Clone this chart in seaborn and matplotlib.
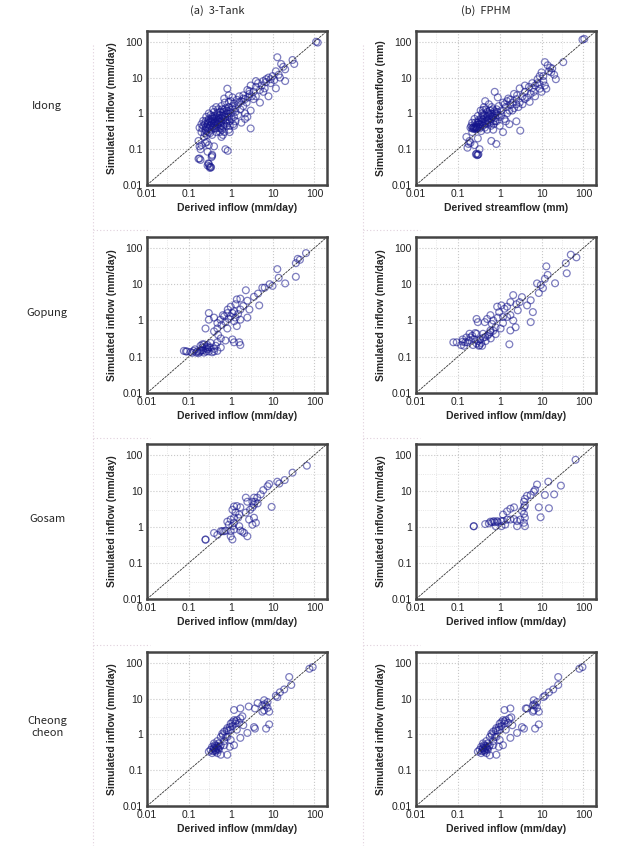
import matplotlib
matplotlib.use("Agg")
import matplotlib.pyplot as plt
from matplotlib.lines import Line2D
from matplotlib.ticker import LogLocator, FixedLocator, NullFormatter
import numpy as np
import pandas as pd
import seaborn as sns

sns.set_style("white")
plt.rcParams['font.family'] = ['Liberation Sans', 'DejaVu Sans']

# column / row headers
col_titles = ["(a)  3-Tank", "(b)  FPHM"]
row_names = ["Idong", "Gopung", "Gosam", "Cheong\ncheon"]
tick_vals = [0.01, 0.1, 1, 10, 100]
tick_labels = ["0.01", "0.1", "1", "10", "100"]

# (derived, simulated) pairs
idong_tank = [
    (120, 95), (110, 100), (33, 24), (30, 31), (13, 37), (18, 20), (16, 24), (20, 17), (14, 12), (12, 15),
    (10, 11), (9, 9), (11, 8.5), (8, 10), (7, 7.5), (6, 8), (5.5, 6), (6.5, 5), (5, 4.5), (4.5, 7),
    (4, 5.5), (3.5, 4), (3, 6), (3.2, 3), (2.8, 3.5), (2.5, 4.5), (2.2, 2.5), (2, 3.2), (2.4, 2), (1.8, 2.2),
    (1.6, 3), (1.5, 1.8), (1.4, 2.4), (1.3, 1.4), (1.2, 1.9), (0.83, 4.9), (0.9, 3.2), (1.1, 2.8),
    (2.5, 0.8), (3, 0.38), (2.2, 0.7), (1.8, 0.55), (1.5, 0.9), (1.2, 0.45), (0.95, 0.3), (0.85, 0.09),
    (0.75, 0.1), (0.6, 0.22), (20, 8), (12, 5), (8, 3), (5, 2),
    (15, 10), (9, 7), (7, 9), (6, 4), (4, 3), (3.5, 2.5), (2.6, 2.8), (2, 1.6), (1.7, 1.3), (1.3, 1.1),
    (4, 8), (2.8, 4.2), (2, 2.6), (1.6, 2.1), (3, 1.2), (2.2, 1.0), (1.1, 1.6), (0.9, 2.1), (0.7, 2.6),
    (0.2, 0.3), (0.22, 0.45), (0.25, 0.35), (0.25, 0.6), (0.28, 0.5), (0.3, 0.3), (0.3, 0.7), (0.32, 0.45),
    (0.33, 0.9), (0.35, 0.55), (0.35, 0.35), (0.38, 0.7), (0.4, 0.4), (0.4, 1.1), (0.42, 0.6), (0.45, 0.8),
    (0.45, 0.3), (0.48, 0.5), (0.5, 1.3), (0.5, 0.65), (0.52, 0.4), (0.55, 0.9), (0.58, 0.55), (0.6, 1.6),
    (0.6, 0.75), (0.62, 0.35), (0.65, 1.1), (0.68, 0.5), (0.7, 0.9), (0.72, 2.0), (0.75, 0.65), (0.8, 1.2),
    (0.8, 0.45), (0.85, 0.8), (0.9, 1.5), (0.95, 0.6), (1.0, 1.0), (1.0, 2.2), (1.05, 0.7), (1.1, 1.3),
    (1.15, 0.5), (0.27, 0.25), (0.23, 0.22), (0.36, 0.25), (0.3, 1.0), (0.26, 0.8), (0.55, 0.3), (0.45, 1.5),
    (0.38, 1.3), (0.65, 0.25), (0.7, 0.3), (0.9, 0.35), (0.2, 0.5), (0.18, 0.4), (0.42, 0.45), (0.33, 0.6),
    (0.5, 0.5), (0.6, 0.6), (0.28, 0.38), (0.36, 0.8), (0.46, 0.38), (0.55, 0.7), (0.75, 1.4), (0.85, 1.0),
    (0.21, 0.38), (0.24, 0.5), (0.26, 0.42), (0.29, 0.62), (0.31, 0.4), (0.34, 0.48), (0.37, 0.62),
    (0.39, 0.52), (0.41, 0.75), (0.43, 0.38), (0.47, 0.68), (0.49, 0.92), (0.53, 0.58), (0.56, 1.1),
    (0.59, 0.45), (0.63, 0.85), (0.66, 0.68), (0.69, 1.25), (0.73, 0.78), (0.77, 1.0), (0.82, 0.62),
    (0.87, 1.15), (0.92, 0.8), (0.98, 1.25), (0.26, 0.32), (0.32, 0.28), (0.38, 0.44), (0.44, 0.55),
    (0.52, 0.75), (0.62, 1.3), (0.48, 1.05), (0.4, 0.85), (0.34, 0.7), (0.29, 0.55), (0.24, 0.28),
    (0.22, 0.62), (0.57, 0.38), (0.67, 0.42), (0.78, 0.55), (1.2, 0.8), (1.3, 0.6), (0.95, 0.45),
    (0.17, 0.17), (0.19, 0.1), (0.3, 0.13), (0.28, 0.085), (0.17, 0.054), (0.19, 0.05), (0.3, 0.039),
    (0.33, 0.032), (0.28, 0.035), (0.32, 0.03), (0.36, 0.07), (0.35, 0.06), (0.25, 0.15), (0.2, 0.13), (0.4, 0.12),
    (0.18, 0.055), (0.31, 0.033), (0.29, 0.04), (0.34, 0.031), (0.36, 0.065), (0.18, 0.12), (0.27, 0.16),
]
idong_fphm = [
    (95, 115), (105, 120), (33, 27), (12, 27), (14, 22), (18, 18), (15, 15), (20, 12), (22, 9), (17, 14),
    (10, 14), (9, 11), (11, 8), (8, 9), (7, 6), (12, 6), (13, 4.9), (9.1, 4.9), (10, 4), (6, 7),
    (5, 5.5), (5.5, 3.5), (5.2, 2.1), (4, 4), (4.5, 2.8), (3.5, 3), (3, 5), (3, 2), (2.5, 2.5), (2.8, 1.5),
    (3.1, 0.33), (2.2, 3.5), (2, 2), (2, 1.2), (1.8, 1.7), (1.6, 2.6), (1.5, 1), (1.4, 1.5), (1.3, 0.7),
    (1.2, 2), (1.1, 1.2), (1, 0.45), (0.76, 4), (0.9, 2.8), (1.0, 0.8), (0.95, 1.6), (2.5, 0.6), (1.7, 0.5),
    (0.83, 0.14), (0.63, 0.17), (1.2, 0.3), (0.7, 0.35), (0.85, 0.6),
    (16, 19), (11, 11), (8, 7), (6, 5), (7, 3), (4, 2.5), (3.5, 1.8), (2.5, 1.8), (2.2, 1.4), (1.7, 1.2),
    (1.5, 2.2), (1.3, 1.8), (1.8, 2.4), (2.6, 3.2), (4, 6), (6.5, 4), (9, 6.5), (1.1, 0.9), (1.4, 0.6),
    (0.2, 0.4), (0.22, 0.55), (0.25, 0.38), (0.25, 0.7), (0.28, 0.48), (0.3, 0.42), (0.3, 0.85), (0.32, 0.6),
    (0.35, 0.5), (0.35, 1.2), (0.38, 0.7), (0.4, 0.45), (0.4, 0.9), (0.42, 1.5), (0.45, 0.6), (0.48, 0.8),
    (0.5, 0.5), (0.5, 1.1), (0.55, 0.7), (0.55, 1.8), (0.6, 0.55), (0.6, 1.0), (0.65, 0.8), (0.68, 1.3),
    (0.7, 0.6), (0.75, 1.0), (0.8, 0.75), (0.85, 1.3), (0.9, 0.9), (0.45, 2.2), (0.5, 0.35), (0.27, 0.42),
    (0.23, 0.4), (0.33, 0.38), (0.62, 0.45), (0.38, 1.0), (0.3, 0.55), (0.44, 0.4), (0.52, 0.62), (0.58, 0.9),
    (0.72, 0.5), (0.36, 0.32),
    (0.21, 0.45), (0.24, 0.42), (0.26, 0.55), (0.29, 0.38), (0.31, 0.65), (0.33, 0.5), (0.36, 0.75),
    (0.39, 0.55), (0.41, 0.68), (0.43, 0.9), (0.46, 0.52), (0.49, 0.65), (0.52, 0.85), (0.56, 0.58),
    (0.59, 1.2), (0.63, 0.7), (0.66, 0.95), (0.7, 0.8), (0.74, 1.15), (0.78, 0.6), (0.82, 1.0),
    (0.88, 1.1), (0.27, 0.36), (0.34, 0.42), (0.47, 1.3), (0.54, 1.0), (0.4, 1.25), (0.31, 0.48),
    (0.22, 0.38), (0.24, 0.37), (0.26, 0.4), (0.28, 0.39), (0.37, 0.58), (0.64, 1.5),
    (0.16, 0.22), (0.17, 0.11), (0.18, 0.14), (0.25, 0.13), (0.28, 0.075), (0.3, 0.07), (0.27, 0.072),
    (0.33, 0.1), (0.2, 0.15), (0.22, 0.3), (0.3, 0.2), (0.29, 0.068), (0.31, 0.072), (0.19, 0.17),
]
gopung_tank = [
    (63, 72), (45, 47), (40, 50), (36, 38), (36, 16), (20, 10.5), (13, 26), (14, 15), (8.5, 10), (10, 9),
    (6.5, 8), (5.7, 8), (4.5, 5.5), (4.8, 2.6), (3.6, 4.5), (2.5, 3.5), (2.3, 6.8), (1.7, 4), (1.4, 3.8),
    (1.3, 2.8), (1, 2.4), (1.2, 1.8), (0.83, 1.6), (0.7, 1.3), (0.57, 1.05), (0.48, 0.85), (0.4, 1.2),
    (0.3, 1.05), (0.25, 0.6), (0.3, 1.6), (0.48, 0.6), (0.83, 0.6), (1.2, 0.95), (1.7, 1.05), (2.5, 1.2),
    (2.8, 2), (1.7, 2), (1, 1.3), (1.4, 0.7), (0.65, 1.4), (0.4, 0.5), (0.5, 0.4), (0.58, 0.32), (0.75, 0.28),
    (1.1, 0.3), (1.2, 0.25), (1.6, 0.25), (1.7, 0.21), (0.48, 0.25), (0.3, 0.18),
    (0.9, 1.1), (0.75, 0.9), (1.5, 1.5), (2, 2.5), (1.1, 1.6), (0.6, 0.75), (0.85, 2.0), (1.3, 1.2),
    (0.076, 0.145), (0.09, 0.14), (0.11, 0.135), (0.13, 0.145), (0.16, 0.14), (0.19, 0.145), (0.21, 0.18),
    (0.23, 0.22), (0.28, 0.21), (0.33, 0.18), (0.4, 0.165), (0.48, 0.145), (0.58, 0.18), (0.26, 0.14),
    (0.17, 0.125), (0.14, 0.16), (0.19, 0.2), (0.3, 0.14), (0.4, 0.14), (0.23, 0.13), (0.12, 0.128),
    (0.2, 0.15), (0.33, 0.24), (0.44, 0.2), (0.28, 0.16), (0.085, 0.14), (0.36, 0.133),
    (0.15, 0.13), (0.18, 0.135), (0.22, 0.15), (0.25, 0.17), (0.27, 0.19), (0.21, 0.22),
]
gopung_fphm = [
    (50, 65), (68, 55), (38, 38), (40, 20), (21, 10.6), (13, 31), (14, 18), (12, 14), (9.6, 9.5), (10.8, 7.8),
    (7.8, 10.5), (8.6, 5.7), (5.5, 3.6), (6.2, 1.7), (5.5, 0.9), (4.5, 2.6), (3.4, 4.4), (2.7, 1.9), (2.1, 5),
    (1.8, 3.2), (1.5, 2.4), (1.3, 2.1), (1.1, 2.6), (0.87, 2.4), (0.97, 1.7), (1.2, 1.25), (1.5, 1.25),
    (1.8, 1.4), (2.1, 1), (2.4, 0.65), (1.8, 0.53), (1.7, 0.22), (0.6, 1.4), (0.5, 1.1), (0.28, 1.1),
    (0.3, 0.9), (0.44, 0.9), (0.7, 1.0), (0.8, 0.65), (1.05, 0.6), (0.6, 0.53), (0.4, 0.43), (0.28, 0.43),
    (0.19, 0.43), (0.16, 0.34), (0.13, 0.3), (0.9, 1.2), (1.2, 0.85), (0.65, 0.8), (2.5, 2.8), (3, 3.2),
    (0.078, 0.25), (0.094, 0.25), (0.12, 0.21), (0.14, 0.2), (0.17, 0.25), (0.2, 0.34), (0.25, 0.3),
    (0.3, 0.27), (0.32, 0.2), (0.38, 0.2), (0.36, 0.24), (0.46, 0.27), (0.51, 0.38), (0.6, 0.47), (0.7, 0.52),
    (0.8, 0.42), (0.23, 0.21), (0.15, 0.25), (0.19, 0.28), (0.28, 0.23), (0.4, 0.33), (0.61, 0.32), (0.13, 0.26),
    (0.22, 0.38), (0.26, 0.45), (0.34, 0.3), (0.45, 0.35), (0.55, 0.42), (0.33, 0.21),
]
gosam_tank = [
    (66, 50), (30, 32), (19.5, 20), (14.5, 16), (13, 18), (7.6, 13.5), (8.3, 15.5), (9.5, 3.6), (6, 10.5),
    (5.2, 8), (4.3, 6.5), (3.8, 5), (3.6, 4.1), (4.4, 4.5), (3.3, 5.0), (3.3, 3.5), (3.6, 6.5), (2.5, 5),
    (2.3, 6.5), (1.7, 3.5), (1.4, 3.8), (1.2, 3.7), (1.1, 3), (1.3, 2.5), (1.6, 2.2), (1.5, 1.8), (1.2, 1.8),
    (1, 1.6), (1.2, 1.3), (0.83, 1.4), (0.9, 1.15), (1.1, 1.05), (0.7, 0.76), (0.63, 0.76), (0.58, 0.76),
    (0.76, 0.79), (1, 0.76), (1.1, 0.45), (1, 0.55), (0.48, 0.6), (0.4, 0.68), (0.25, 0.45), (0.25, 0.44),
    (1.2, 0.85), (1.7, 0.79), (2.5, 0.55), (2.75, 1.6), (3.6, 1.8), (4, 1.3), (3.3, 1.15), (2.1, 0.68),
    (1.9, 0.74), (1.6, 1.05), (2.3, 2.5), (2.9, 3),
]
gosam_fphm = [
    (65, 73), (29, 14), (20, 8), (14.5, 18), (15, 3.3), (12, 7.7), (8.6, 3.5), (9.5, 1.85), (7.8, 15),
    (7, 10.7), (6.5, 9.5), (5.5, 7.7), (4.5, 7.3), (4, 6), (3.8, 5), (4, 3.9), (3.8, 3.5), (3.4, 2.8),
    (3.8, 2.3), (4, 1.8), (3.8, 1.3), (4, 1.05), (2.6, 1.05), (2.2, 3.5), (1.8, 3.2), (1.5, 2.7), (1.2, 2.2),
    (1.1, 1.45), (0.87, 1.45), (0.72, 1.45), (0.66, 1.35), (0.6, 1.4), (0.76, 1.35), (0.9, 1.35), (1.2, 1.45),
    (1.5, 1.6), (1.8, 1.6), (2.2, 1.65), (1.35, 1.16), (1.1, 1.05), (0.8, 1.05), (0.55, 1.25), (0.45, 1.2),
    (0.24, 1.05), (0.24, 1.04), (2.6, 1.45), (3.1, 1.6),
]
cheong_tank = [
    (91, 76), (76, 68), (25, 40), (28, 24), (19, 18), (15, 15), (13, 11), (12, 12), (7.6, 8), (7, 6.5),
    (6.3, 9), (5.7, 6.5), (7.6, 5.5), (6.3, 4.7), (5.7, 4.3), (8.3, 4.3), (7, 1.45), (8.3, 1.9), (4.4, 7.5),
    (3.8, 5.3), (2.7, 6), (3.8, 1.45), (3.6, 1.6), (2.5, 1.1), (1.7, 0.8), (1.7, 5.3), (1.2, 4.8), (1.2, 2.5),
    (1.4, 2.5), (1.3, 2.3), (1.0, 2.0), (1.7, 2.8), (1.6, 2.1), (1.9, 3.2), (1.1, 1.7), (1.0, 1.35),
    (0.83, 1.5), (0.7, 1.2), (0.63, 1.05), (0.58, 0.85), (0.83, 0.85), (1, 0.7), (1.2, 0.5), (0.95, 0.45),
    (0.58, 0.5), (0.48, 0.45), (0.4, 0.4), (0.33, 0.37), (0.3, 0.33), (0.36, 0.3), (0.44, 0.37), (0.48, 0.3),
    (0.58, 0.27), (0.83, 0.27), (0.4, 0.56), (0.52, 0.56), (0.48, 0.65), (0.7, 0.65), (0.44, 0.33),
    (0.52, 0.37), (0.36, 0.45), (0.7, 0.5), (0.76, 0.85), (1.4, 1.35), (2, 1.8), (0.42, 0.5), (0.38, 0.34),
    (0.46, 0.42), (0.55, 0.45), (0.65, 0.95), (0.9, 1.3), (1.1, 2.2),
    (0.42, 0.36), (0.45, 0.48), (0.5, 0.4), (0.39, 0.42), (0.8, 1.3), (0.95, 1.6), (1.3, 2.0), (6.5, 7),
]
cheong_fphm = [
    (95, 76), (80, 68), (25, 40), (25, 24), (19, 18), (15, 15), (12, 12), (11, 11), (7.8, 8), (7, 6.5),
    (6.5, 9), (6.2, 6.5), (7.8, 5.5), (6.5, 4.7), (6.2, 4.3), (8.6, 4.3), (7, 1.45), (8.6, 1.9), (4.5, 5.3),
    (4.2, 5.3), (3.8, 1.45), (3.4, 1.6), (2.6, 1.1), (1.8, 0.8), (1.8, 5.3), (1.3, 4.8), (1.2, 2.5),
    (1.4, 2.5), (1.3, 2.3), (1.0, 2.0), (1.7, 2.8), (1.6, 2.1), (1.9, 3.0), (1.1, 1.7), (1.0, 1.35),
    (0.83, 1.5), (0.7, 1.2), (0.63, 1.05), (0.58, 0.85), (0.83, 0.85), (1, 0.7), (1.2, 0.5), (0.95, 0.45),
    (0.58, 0.5), (0.48, 0.45), (0.4, 0.4), (0.33, 0.37), (0.3, 0.33), (0.36, 0.3), (0.44, 0.37), (0.48, 0.3),
    (0.58, 0.26), (0.83, 0.27), (0.4, 0.56), (0.52, 0.56), (0.48, 0.65), (0.7, 0.65), (0.44, 0.33),
    (0.52, 0.37), (0.36, 0.45), (0.7, 0.5), (0.76, 0.85), (1.4, 1.35), (2, 1.8), (0.42, 0.5), (0.38, 0.34),
    (0.46, 0.42), (0.55, 0.45), (0.65, 0.95), (0.9, 1.3), (1.1, 2.2),
    (0.42, 0.36), (0.45, 0.48), (0.5, 0.4), (0.39, 0.42), (0.8, 1.3), (0.95, 1.6), (1.3, 2.0), (6.6, 7),
]

panels = [
    [idong_tank, idong_fphm],
    [gopung_tank, gopung_fphm],
    [gosam_tank, gosam_fphm],
    [cheong_tank, cheong_fphm],
]
xlabels = [["Derived inflow (mm/day)", "Derived streamflow (mm)"]] + [["Derived inflow (mm/day)"] * 2] * 3
ylabels = [["Simulated inflow (mm/day)", "Simulated streamflow (mm)"]] + [["Simulated inflow (mm/day)"] * 2] * 3

W, H = 629, 846
fig = plt.figure(figsize=(W / 100, H / 100), dpi=100)

col_left = [147, 416]
row_box = [(31, 185), (237, 393), (444, 599), (652, 806)]
edge = "#14148c"

for r, (top, bot) in enumerate(row_box):
    for c in range(2):
        ax = fig.add_axes([col_left[c] / W, 1 - bot / H, 180 / W, (bot - top) / H])
        df = pd.DataFrame(panels[r][c], columns=["derived", "simulated"])
        sns.scatterplot(data=df, x="derived", y="simulated", ax=ax, marker="o", s=24,
                        facecolor="none", edgecolor=edge, linewidth=0.9, alpha=0.55)
        ax.set_xscale("log")
        ax.set_yscale("log")
        ax.set_xlim(0.01, 200)
        ax.set_ylim(0.01, 200)
        ax.plot([0.01, 200], [0.01, 200], color="#333333", lw=0.6, ls=(0, (3, 1)), zorder=1)
        ax.xaxis.set_major_locator(FixedLocator(tick_vals))
        ax.yaxis.set_major_locator(FixedLocator(tick_vals))
        ax.set_xticklabels(tick_labels)
        ax.set_yticklabels(tick_labels)
        ax.xaxis.set_minor_locator(LogLocator(base=10, subs=(3.0,)))
        ax.yaxis.set_minor_locator(LogLocator(base=10, subs=(3.0,)))
        ax.xaxis.set_minor_formatter(NullFormatter())
        ax.yaxis.set_minor_formatter(NullFormatter())
        ax.grid(True, which="major", color="#c8c8c8", ls=":", lw=0.8)
        ax.grid(True, which="minor", color="#dedede", ls=":", lw=0.6)
        ax.set_axisbelow(True)
        ax.tick_params(which="both", length=0, labelsize=7.5, colors="#222222", pad=3)
        for sp in ax.spines.values():
            sp.set_color("#444444")
            sp.set_linewidth(1.8)
        ax.set_xlabel(xlabels[r][c], fontsize=7.5, fontweight="bold", labelpad=3)
        ax.set_ylabel(ylabels[r][c], fontsize=7.5, fontweight="bold", labelpad=4)

# column titles and row names
for c, t in enumerate(col_titles):
    fig.text((col_left[c] + 70) / W, 1 - 11 / H, t, ha="center", va="center", fontsize=8,
             family=["Noto Sans CJK KR", "DejaVu Sans"])
for r, name in enumerate(row_names):
    top, bot = row_box[r]
    fig.text(47 / W, 1 - ((top + bot) / 2 - 2) / H, name, ha="center", va="center", fontsize=8,
             family=["Noto Sans CJK KR", "DejaVu Sans"], linespacing=1.3)

# faint dotted table borders
dot = dict(color="#e0d0dc", lw=0.8, ls=(0, (1, 2)))
for x in (93, 363):
    fig.add_artist(Line2D([x / W, x / W], [1 - 45 / H, 0], transform=fig.transFigure, **dot))
for y in (230, 438, 645):
    fig.add_artist(Line2D([93 / W, 150 / W], [1 - y / H] * 2, transform=fig.transFigure, **dot))
    fig.add_artist(Line2D([363 / W, 420 / W], [1 - y / H] * 2, transform=fig.transFigure, **dot))

fig.savefig("out.png", dpi=100)
